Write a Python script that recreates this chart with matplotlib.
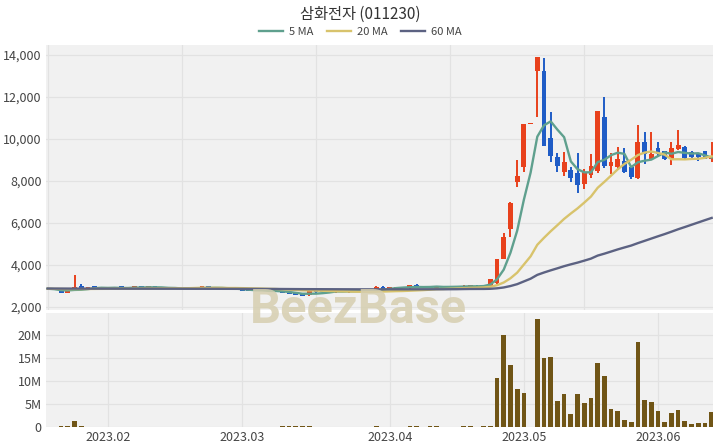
import numpy as np
import pandas as pd
import matplotlib
matplotlib.use("Agg")
import matplotlib.pyplot as plt
from matplotlib.ticker import MultipleLocator, FuncFormatter

plt.rcParams['font.family'] = ['Noto Sans CJK KR', 'DejaVu Sans']

# trading days (KRX holidays removed)
holidays = ['2023-01-23', '2023-01-24', '2023-03-01', '2023-05-01',
            '2023-05-05', '2023-05-29', '2023-06-06']
dates = pd.bdate_range('2023-01-17', '2023-06-14').drop(pd.to_datetime(holidays))

opens = [2870, 2850, 2780, 2690, 2860, 3000, 2890, 2980, 2960, 2900,
         2890, 3000, 2910, 2900, 3010, 2910, 2990, 2900, 2880, 2880,
         2880, 2880, 2900, 2890, 2990, 2900, 2900, 2880, 2800, 2850,
         2800, 2790, 2780, 2770, 2780, 2770, 2680, 2650, 2640, 2570,
         2770, 2760, 2740, 2700, 2760, 2700, 2750, 2740, 2760, 2780,
         2960, 2880, 2900, 2950, 2890, 3070, 3000, 2920, 2920, 3000,
         3000, 3000, 2950, 2960, 3020, 2950, 3010, 3130, 4300, 5700,
         7970, 8680, 10710, 13240, 13240, 10030, 9160, 8410, 8520, 8400,
         7840, 8290, 8490, 11030, 8730, 8650, 8950, 8650, 8130, 9870,
         9050, 9560, 9430, 9050, 9510, 9630, 9400, 9290, 9440, 9040]
highs = [2880, 2860, 2800, 2800, 3520, 3080, 2970, 2990, 2970, 2910,
         2950, 3010, 2920, 3000, 3020, 3000, 3000, 2910, 2890, 2890,
         2890, 2930, 2910, 2990, 3000, 2910, 2910, 2890, 2900, 2860,
         2810, 2800, 2790, 2780, 2790, 2780, 2690, 2660, 2650, 2800,
         2780, 2770, 2750, 2780, 2770, 2760, 2760, 2770, 2790, 3010,
         2980, 2960, 2960, 2960, 3040, 3100, 3010, 2980, 3000, 3010,
         3010, 3010, 3030, 3060, 3030, 3020, 3350, 4300, 5510, 6990,
         9000, 10710, 10710, 13920, 13840, 11300, 9320, 9370, 8650, 9320,
         8570, 9270, 11350, 12010, 9320, 9630, 9560, 8660, 10670, 10320,
         10320, 9870, 9450, 9870, 10430, 9650, 9420, 9300, 9450, 9870]
lows = [2850, 2800, 2680, 2670, 2850, 2890, 2880, 2890, 2890, 2880,
        2880, 2890, 2890, 2890, 2900, 2900, 2890, 2870, 2870, 2870,
        2870, 2870, 2880, 2880, 2890, 2890, 2870, 2790, 2790, 2770,
        2760, 2750, 2760, 2750, 2740, 2680, 2600, 2560, 2520, 2520,
        2690, 2720, 2720, 2690, 2730, 2690, 2730, 2730, 2750, 2770,
        2870, 2870, 2890, 2890, 2880, 2940, 2910, 2910, 2910, 2940,
        2950, 2940, 2940, 2950, 2940, 2940, 3000, 3080, 4270, 5350,
        7730, 8410, 10710, 11060, 9650, 8920, 8410, 8240, 7940, 7440,
        7620, 8160, 8400, 8600, 8330, 8520, 8400, 8110, 8100, 8810,
        9000, 9210, 9000, 8760, 9480, 9050, 9000, 8970, 9040, 8920]
closes = [2860, 2810, 2690, 2780, 2930, 2900, 2960, 2900, 2900, 2890,
          2940, 2900, 2900, 2990, 2910, 2990, 2900, 2880, 2880, 2880,
          2880, 2900, 2890, 2980, 2900, 2900, 2880, 2800, 2890, 2780,
          2770, 2760, 2770, 2760, 2750, 2690, 2610, 2570, 2530, 2770,
          2700, 2730, 2730, 2770, 2740, 2750, 2740, 2760, 2780, 2950,
          2880, 2950, 2950, 2900, 3030, 2950, 2920, 2970, 2990, 2950,
          2960, 2950, 3020, 3050, 2950, 3010, 3320, 4280, 5350, 6970,
          8240, 10710, 10710, 13920, 9670, 9190, 8730, 8920, 8160, 7810,
          8440, 8730, 11350, 8710, 8920, 9030, 8440, 8200, 9870, 9290,
          9290, 9290, 9050, 9560, 9710, 9080, 9130, 9130, 9050, 9190]
volumes_m = [0.10, 0.10, 0.15, 0.12, 1.30, 0.25, 0.10, 0.08, 0.06, 0.05,
             0.05, 0.06, 0.04, 0.05, 0.06, 0.05, 0.04, 0.03, 0.03, 0.03,
             0.03, 0.05, 0.03, 0.06, 0.05, 0.03, 0.03, 0.05, 0.04, 0.06,
             0.05, 0.04, 0.03, 0.03, 0.05, 0.12, 0.15, 0.18, 0.20, 0.15,
             0.08, 0.05, 0.04, 0.05, 0.04, 0.05, 0.03, 0.04, 0.05, 0.12,
             0.08, 0.06, 0.05, 0.04, 0.15, 0.18, 0.10, 0.12, 0.15, 0.10,
             0.10, 0.08, 0.15, 0.18, 0.10, 0.15, 0.30, 10.7, 20.2, 13.6,
             8.4, 7.5, 0.0, 23.5, 15.1, 15.3, 5.7, 7.1, 2.9, 7.3,
             5.2, 6.25, 13.9, 11.2, 3.9, 3.6, 1.6, 1.1, 18.5, 6.0,
             5.5, 3.6, 1.0, 3.1, 3.8, 1.2, 0.7, 0.8, 0.8, 3.2]

ma5 = [2870, 2850, 2800, 2790, 2814, 2822, 2852, 2894, 2918, 2910,
       2918, 2906, 2906, 2924, 2928, 2938, 2938, 2934, 2912, 2906,
       2884, 2884, 2886, 2906, 2910, 2914, 2910, 2892, 2874, 2850,
       2824, 2800, 2794, 2768, 2762, 2746, 2716, 2676, 2630, 2634,
       2636, 2660, 2692, 2740, 2734, 2744, 2746, 2752, 2754, 2796,
       2822, 2864, 2902, 2926, 2942, 2956, 2950, 2954, 2972, 2956,
       2958, 2964, 2974, 2986, 2986, 2996, 3070, 3322, 3782, 4586,
       5632, 7110, 8396, 10110, 10650, 10840, 10444, 10086, 8934, 8562,
       8412, 8412, 8898, 9008, 9230, 9348, 9290, 8660, 8892, 8966,
       9018, 9188, 9358, 9296, 9380, 9338, 9306, 9322, 9220, 9116]
ma20 = [2870, 2865, 2860, 2855, 2855, 2855, 2860, 2862, 2865, 2866,
        2868, 2870, 2872, 2875, 2878, 2880, 2882, 2884, 2886, 2890,
        2890, 2895, 2905, 2915, 2914, 2914, 2910, 2904, 2904, 2898,
        2890, 2883, 2876, 2865, 2857, 2842, 2828, 2812, 2794, 2789,
        2780, 2772, 2764, 2753, 2745, 2738, 2730, 2728, 2723, 2732,
        2737, 2746, 2756, 2762, 2776, 2790, 2805, 2825, 2848, 2857,
        2870, 2881, 2896, 2910, 2920, 2933, 2962, 3038, 3167, 3368,
        3636, 4024, 4412, 4963, 5295, 5607, 5897, 6195, 6453, 6696,
        6970, 7259, 7676, 7959, 8257, 8558, 8814, 9010, 9236, 9352,
        9405, 9334, 9251, 9033, 9035, 9029, 9049, 9060, 9104, 9173]
ma60 = [2880, 2879, 2878, 2877, 2876, 2876, 2875, 2875, 2874, 2874,
        2873, 2873, 2872, 2872, 2872, 2871, 2871, 2870, 2870, 2870,
        2869, 2869, 2868, 2868, 2867, 2867, 2866, 2866, 2865, 2864,
        2863, 2862, 2861, 2860, 2859, 2857, 2855, 2853, 2851, 2850,
        2849, 2848, 2847, 2846, 2845, 2844, 2843, 2842, 2842, 2842,
        2842, 2842, 2843, 2843, 2843, 2844, 2844, 2844, 2845, 2845,
        2847, 2849, 2855, 2859, 2860, 2861, 2867, 2890, 2931, 2999,
        3088, 3218, 3348, 3530, 3643, 3746, 3843, 3944, 4032, 4114,
        4207, 4304, 4448, 4540, 4641, 4743, 4836, 4926, 5042, 5150,
        5259, 5368, 5473, 5586, 5702, 5808, 5917, 6026, 6135, 6242]

up_color = '#e8411c'
down_color = '#1f5cc6'
vol_color = '#705516'
bg = '#f1f1f1'
grid_c = '#e2e2e2'

o = np.array(opens)
h = np.array(highs)
l = np.array(lows)
c = np.array(closes)
x = np.arange(len(dates))
colors = np.where(c >= o, up_color, down_color)

fig = plt.figure(figsize=(7.2, 4.48), dpi=100)
ax1 = fig.add_axes([0.0639, 0.308, 0.9264, 0.5916])
ax2 = fig.add_axes([0.0639, 0.0469, 0.9264, 0.2544])

for ax in (ax1, ax2):
    ax.set_facecolor(bg)
    for s in ax.spines.values():
        s.set_visible(False)
    ax.tick_params(length=0, labelsize=9, labelcolor='#444444', pad=3)
    ax.grid(True, color=grid_c, linewidth=0.9)
    ax.set_axisbelow(True)
    ax.set_xlim(-0.25, 99.2)

# candles
ax1.vlines(x, l, h, colors=colors, linewidth=1.4, zorder=2)
body = np.maximum(np.abs(c - o), 40)
ax1.bar(x, body, bottom=np.minimum(o, c), width=0.72, color=colors, zorder=3)

ax1.plot(x, ma5, color='#5fa08e', lw=1.7, label='5 MA', zorder=4)
ax1.plot(x, ma20, color='#d8c36c', lw=1.7, label='20 MA', zorder=4)
ax1.plot(x, ma60, color='#5c6282', lw=1.7, label='60 MA', zorder=4)

ax1.set_ylim(1857, 14476)
ax1.yaxis.set_major_locator(MultipleLocator(2000))
ax1.yaxis.set_major_formatter(FuncFormatter(lambda v, p: f'{v:,.0f}'))
ax1.xaxis.set_major_locator(MultipleLocator(20))
ax1.tick_params(axis='x', labelbottom=False)

# volume
ax2.bar(x, np.array(volumes_m) * 1e6, width=0.7, color=vol_color, zorder=3)
ax2.set_ylim(0, 24.9e6)
ax2.yaxis.set_major_locator(MultipleLocator(5e6))
ax2.yaxis.set_major_formatter(FuncFormatter(lambda v, p: '0' if v == 0 else f'{v/1e6:.0f}M'))
month_start = [i for i in range(1, len(dates)) if dates[i].month != dates[i - 1].month]
ax2.set_xticks(month_start)
ax2.set_xticklabels([dates[i].strftime('%Y.%m') for i in month_start])

fig.text(0.5, 1 - 14 / 448, '삼화전자 (011230)', ha='center', va='center',
         fontsize=11, color='#333333')
fig.legend(loc='center', bbox_to_anchor=(0.5, 1 - 32 / 448), ncol=3, frameon=False,
           fontsize=8, labelcolor='#444444', handlelength=2.2, columnspacing=1.2,
           handletextpad=0.5)
fig.text(358 / 720, 1 - 310 / 448, 'BeezBase', ha='center', va='center',
         fontsize=35, fontweight='bold', family='Roboto', color='#d6ceb0', alpha=0.85)

fig.savefig('out.png', dpi=100)
